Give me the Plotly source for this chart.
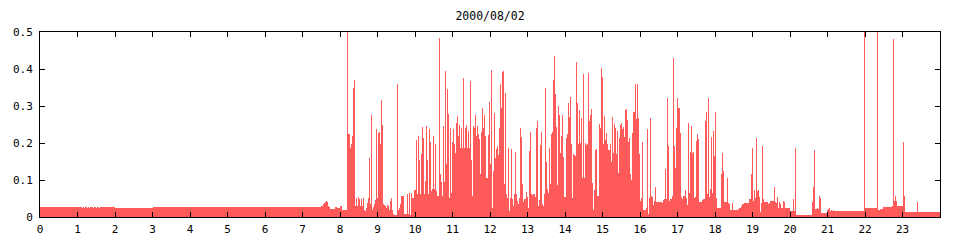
import plotly.graph_objects as go

# values per 2-hour block, 75 samples each (1.6 min step)
h00_02 = [
    0.026, 0.026, 0.026, 0.026, 0.026, 0.026, 0.026, 0.026, 0.026, 0.026, 0.026, 0.026, 0.026, 0.026, 0.026,
    0.026, 0.026, 0.026, 0.026, 0.026, 0.026, 0.026, 0.026, 0.026, 0.026, 0.026, 0.026, 0.026, 0.026, 0.026,
    0.026, 0.026, 0.026, 0.026, 0.026, 0.026, 0.026, 0.026, 0.026, 0.026, 0.026, 0.026, 0.024, 0.026, 0.024,
    0.026, 0.026, 0.024, 0.026, 0.024, 0.026, 0.026, 0.026, 0.024, 0.026, 0.026, 0.024, 0.026, 0.026, 0.024,
    0.026, 0.026, 0.026, 0.026, 0.026, 0.026, 0.026, 0.026, 0.026, 0.026, 0.026, 0.026, 0.026, 0.026, 0.026,
]
h02_04 = [
    0.023, 0.024, 0.023, 0.023, 0.024, 0.023, 0.023, 0.023, 0.024, 0.023, 0.023, 0.024, 0.023, 0.023, 0.023,
    0.024, 0.023, 0.023, 0.023, 0.024, 0.023, 0.023, 0.024, 0.023, 0.023, 0.023, 0.024, 0.023, 0.023, 0.024,
    0.023, 0.023, 0.024, 0.023, 0.023, 0.024, 0.023, 0.024, 0.026, 0.026, 0.026, 0.026, 0.026, 0.026, 0.026,
    0.026, 0.026, 0.026, 0.026, 0.026, 0.026, 0.026, 0.026, 0.026, 0.026, 0.026, 0.026, 0.026, 0.026, 0.026,
    0.026, 0.026, 0.026, 0.026, 0.026, 0.026, 0.026, 0.026, 0.026, 0.026, 0.026, 0.026, 0.026, 0.026, 0.026,
]
h04_06 = [
    0.026, 0.026, 0.026, 0.026, 0.026, 0.026, 0.026, 0.026, 0.026, 0.026, 0.026, 0.026, 0.026, 0.026, 0.026,
    0.026, 0.026, 0.026, 0.026, 0.026, 0.026, 0.026, 0.026, 0.026, 0.026, 0.026, 0.026, 0.026, 0.026, 0.026,
    0.026, 0.026, 0.026, 0.026, 0.026, 0.026, 0.026, 0.026, 0.026, 0.026, 0.026, 0.026, 0.026, 0.026, 0.026,
    0.026, 0.026, 0.026, 0.026, 0.026, 0.026, 0.026, 0.026, 0.026, 0.026, 0.026, 0.026, 0.026, 0.026, 0.026,
    0.026, 0.026, 0.026, 0.026, 0.026, 0.026, 0.026, 0.026, 0.026, 0.026, 0.026, 0.026, 0.026, 0.026, 0.026,
]
h06_08 = [
    0.026, 0.026, 0.026, 0.026, 0.026, 0.026, 0.026, 0.026, 0.026, 0.026, 0.026, 0.026, 0.026, 0.026, 0.026,
    0.026, 0.026, 0.026, 0.026, 0.026, 0.026, 0.026, 0.026, 0.026, 0.026, 0.028, 0.028, 0.028, 0.028, 0.028,
    0.028, 0.028, 0.028, 0.028, 0.028, 0.028, 0.028, 0.028, 0.028, 0.028, 0.028, 0.028, 0.028, 0.028, 0.028,
    0.028, 0.028, 0.028, 0.028, 0.028, 0.028, 0.028, 0.028, 0.028, 0.028, 0.028, 0.029, 0.031, 0.034, 0.037,
    0.040, 0.042, 0.040, 0.031, 0.027, 0.022, 0.022, 0.022, 0.022, 0.022, 0.028, 0.028, 0.025, 0.025, 0.025,
]
h08_10 = [
    0.03, 0.03, 0.018, 0.018, 0.018, 0.018, 0.018, 0.5, 0.223, 0.223, 0.186, 0.196, 0.22, 0.35, 0.37,
    0.03, 0.052, 0.03, 0.054, 0.05, 0.03, 0.048, 0.03, 0.052, 0.02, 0.015, 0.025, 0.039, 0.052, 0.16,
    0.034, 0.277, 0.02, 0.027, 0.034, 0.045, 0.237, 0.052, 0.228, 0.23, 0.198, 0.315, 0.25, 0.034, 0.032,
    0.03, 0.025, 0.032, 0.03, 0.02, 0.043, 0.052, 0.02, 0.007, 0.005, 0.005, 0.005, 0.36, 0.02, 0.025,
    0.036, 0.057, 0.057, 0.057, 0.009, 0.009, 0.009, 0.061, 0.009, 0.066, 0.003, 0.064, 0.052, 0.052, 0.072,
]
h10_12 = [
    0.072, 0.207, 0.061, 0.218, 0.155, 0.061, 0.169, 0.242, 0.214, 0.061, 0.097, 0.246, 0.153, 0.061, 0.239,
    0.204, 0.07, 0.075, 0.219, 0.075, 0.196, 0.07, 0.057, 0.057, 0.483, 0.115, 0.095, 0.057, 0.246, 0.095,
    0.395, 0.142, 0.345, 0.279, 0.052, 0.241, 0.066, 0.204, 0.237, 0.196, 0.174, 0.255, 0.273, 0.219, 0.25,
    0.187, 0.241, 0.187, 0.375, 0.187, 0.241, 0.25, 0.187, 0.232, 0.186, 0.368, 0.153, 0.056, 0.246, 0.24,
    0.275, 0.219, 0.246, 0.223, 0.21, 0.117, 0.231, 0.294, 0.241, 0.277, 0.219, 0.106, 0.105, 0.222, 0.312,
]
h12_14 = [
    0.144, 0.396, 0.023, 0.123, 0.282, 0.159, 0.183, 0.192, 0.168, 0.241, 0.36, 0.294, 0.393, 0.395, 0.088,
    0.336, 0.061, 0.052, 0.187, 0.016, 0.052, 0.185, 0.05, 0.03, 0.061, 0.177, 0.061, 0.043, 0.034, 0.052,
    0.24, 0.216, 0.09, 0.041, 0.048, 0.048, 0.068, 0.054, 0.023, 0.178, 0.231, 0.063, 0.059, 0.061, 0.061,
    0.054, 0.241, 0.259, 0.03, 0.045, 0.195, 0.231, 0.036, 0.03, 0.061, 0.35, 0.15, 0.075, 0.066, 0.186,
    0.088, 0.225, 0.231, 0.369, 0.434, 0.333, 0.243, 0.086, 0.3, 0.277, 0.174, 0.219, 0.276, 0.162, 0.054,
]
h14_16 = [
    0.054, 0.213, 0.225, 0.309, 0.27, 0.325, 0.198, 0.052, 0.171, 0.168, 0.165, 0.42, 0.309, 0.196, 0.288,
    0.201, 0.268, 0.106, 0.387, 0.105, 0.201, 0.195, 0.198, 0.39, 0.259, 0.276, 0.291, 0.092, 0.018, 0.072,
    0.18, 0.183, 0.056, 0.057, 0.252, 0.241, 0.404, 0.379, 0.196, 0.273, 0.207, 0.228, 0.196, 0.18, 0.18,
    0.198, 0.15, 0.271, 0.174, 0.252, 0.241, 0.171, 0.232, 0.12, 0.214, 0.25, 0.255, 0.237, 0.243, 0.216,
    0.288, 0.291, 0.261, 0.204, 0.213, 0.115, 0.099, 0.228, 0.285, 0.285, 0.36, 0.264, 0.36, 0.267, 0.169,
]
h16_18 = [
    0.043, 0.052, 0.204, 0.018, 0.018, 0.018, 0.025, 0.237, 0.009, 0.052, 0.267, 0.057, 0.054, 0.032, 0.043,
    0.081, 0.041, 0.041, 0.041, 0.041, 0.041, 0.041, 0.039, 0.045, 0.048, 0.129, 0.048, 0.321, 0.192, 0.043,
    0.05, 0.048, 0.057, 0.431, 0.192, 0.133, 0.24, 0.321, 0.295, 0.295, 0.228, 0.054, 0.048, 0.057, 0.057,
    0.072, 0.052, 0.032, 0.255, 0.066, 0.177, 0.246, 0.174, 0.177, 0.052, 0.054, 0.205, 0.225, 0.212, 0.041,
    0.041, 0.041, 0.045, 0.048, 0.048, 0.259, 0.285, 0.063, 0.321, 0.054, 0.077, 0.216, 0.066, 0.232, 0.165,
]
h18_20 = [
    0.284, 0.052, 0.023, 0.023, 0.023, 0.023, 0.115, 0.174, 0.124, 0.041, 0.041, 0.041, 0.105, 0.039, 0.036,
    0.018, 0.018, 0.039, 0.018, 0.018, 0.018, 0.018, 0.018, 0.021, 0.023, 0.025, 0.03, 0.034, 0.036, 0.039,
    0.039, 0.039, 0.039, 0.039, 0.05, 0.05, 0.117, 0.187, 0.043, 0.072, 0.052, 0.214, 0.07, 0.072, 0.054,
    0.014, 0.037, 0.191, 0.048, 0.04, 0.04, 0.04, 0.04, 0.036, 0.038, 0.043, 0.043, 0.043, 0.043, 0.081,
    0.041, 0.038, 0.054, 0.025, 0.04, 0.036, 0.025, 0.025, 0.043, 0.041, 0.025, 0.025, 0.025, 0.025, 0.025,
]
h20_22 = [
    0.016, 0.016, 0.016, 0.05, 0.016, 0.186, 0.005, 0.005, 0.005, 0.005, 0.005, 0.005, 0.005, 0.005, 0.005,
    0.005, 0.005, 0.005, 0.005, 0.005, 0.005, 0.005, 0.041, 0.081, 0.18, 0.021, 0.021, 0.023, 0.021, 0.057,
    0.052, 0.012, 0.012, 0.012, 0.012, 0.012, 0.012, 0.018, 0.021, 0.023, 0.017, 0.02, 0.017, 0.02, 0.017,
    0.017, 0.017, 0.017, 0.017, 0.017, 0.017, 0.017, 0.017, 0.017, 0.017, 0.017, 0.017, 0.017, 0.017, 0.017,
    0.017, 0.017, 0.017, 0.017, 0.017, 0.017, 0.017, 0.017, 0.017, 0.017, 0.017, 0.017, 0.017, 0.017, 0.5,
]
h22_24 = [
    0.024, 0.024, 0.024, 0.024, 0.024, 0.024, 0.024, 0.024, 0.024, 0.024, 0.024, 0.024, 0.5, 0.018, 0.018,
    0.022, 0.022, 0.022, 0.026, 0.026, 0.026, 0.026, 0.026, 0.026, 0.026, 0.026, 0.026, 0.03, 0.482, 0.042,
    0.056, 0.042, 0.031, 0.031, 0.031, 0.031, 0.031, 0.031, 0.202, 0.056, 0.013, 0.013, 0.013, 0.013, 0.013,
    0.013, 0.013, 0.013, 0.013, 0.013, 0.013, 0.013, 0.04, 0.013, 0.013, 0.013, 0.013, 0.013, 0.013, 0.013,
    0.013, 0.013, 0.013, 0.013, 0.013, 0.013, 0.013, 0.013, 0.013, 0.013, 0.013, 0.013, 0.013, 0.013, 0.013,
]

x_tick_values = list(range(24))
x_tick_labels = [str(h) for h in range(24)]
y_tick_values = [0, 0.1, 0.2, 0.3, 0.4, 0.5]
y_tick_labels = ["0", "0.1", "0.2", "0.3", "0.4", "0.5"]
title_text = "2000/08/02"

blocks = [h00_02, h02_04, h04_06, h06_08, h08_10, h10_12,
          h12_14, h14_16, h16_18, h18_20, h20_22, h22_24]
values = [v for b in blocks for v in b]
n = len(values)
step = 24.0 / n
times = [(i + 0.5) * step for i in range(n)]

FONT = "DejaVu Sans Mono"
RED = "#ff5a5a"

fig = go.Figure()
fig.add_trace(go.Bar(x=times, y=values, width=step,
                     marker=dict(color=RED, line=dict(width=0)),
                     hoverinfo="skip"))

axis_common = dict(showgrid=False, zeroline=False, showline=True,
                   linecolor="black", linewidth=1, mirror="ticks",
                   ticks="inside", ticklen=5, tickwidth=1, tickcolor="black",
                   automargin=False,
                   tickfont=dict(family=FONT, size=11, color="black"))

fig.update_layout(
    width=960, height=240, autosize=False,
    margin=dict(l=40, r=20, t=32, b=23, pad=0),
    paper_bgcolor="white", plot_bgcolor="white",
    bargap=0, showlegend=False,
    title=dict(text=title_text, x=0.5, xref="paper", xanchor="center",
               y=1 - 15.5 / 240, yref="container", yanchor="middle",
               font=dict(family=FONT, size=11.5, color="black")),
    xaxis=dict(range=[0, 24], tickmode="array", tickvals=x_tick_values,
               ticktext=x_tick_labels, ticklabelstandoff=2, **axis_common),
    yaxis=dict(range=[0, 0.5], tickmode="array", tickvals=y_tick_values,
               ticktext=y_tick_labels, ticklabelstandoff=4, **axis_common),
)

fig.write_html("out.html")
